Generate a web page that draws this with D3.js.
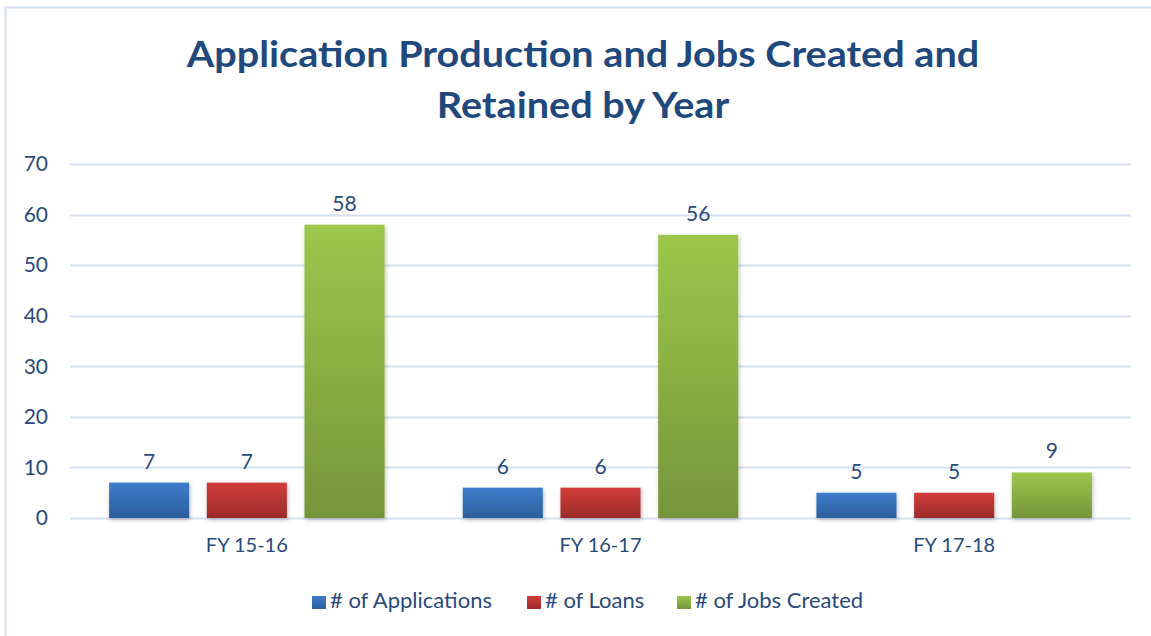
<!DOCTYPE html>
<meta charset="utf-8">
<style>
body { margin: 0; background: #fff; }
svg { display: block; }
.axis text { font: 20px Lato, sans-serif; fill: #2a4a7b; }
.y.axis text { font-size: 21px; }
.grid line { stroke: #d6e0f0; stroke-width: 2px; }
</style>
<body></body>
<script src="https://cdnjs.cloudflare.com/ajax/libs/d3/7.8.5/d3.min.js"></script>
<script>
// data
var categories = ["FY 15-16", "FY 16-17", "FY 17-18"];
var seriesNames = ["# of Applications", "# of Loans", "# of Jobs Created"];
var applications = [7, 6, 5];
var loans = [7, 6, 5];
var jobsCreated = [58, 56, 9];
var yTicks = [0, 10, 20, 30, 40, 50, 60, 70];
var titleLines = ["Application Production and Jobs Created and", "Retained by Year"];

var seriesValues = [applications, loans, jobsCreated];
var colors = [
  { top: "#3e7dcc", bottom: "#2d5e9c" },
  { top: "#d03e3b", bottom: "#9c2a29" },
  { top: "#9dc64b", bottom: "#76953a" }
];

var W = 1151, H = 636;
var plotLeft = 70, plotRight = 1131, plotTop = 164, plotBottom = 518;

var svg = d3.select("body").append("svg")
    .attr("width", W)
    .attr("height", H);

var defs = svg.append("defs");
colors.forEach(function(c, i) {
  var g = defs.append("linearGradient")
      .attr("id", "grad" + i)
      .attr("x1", 0).attr("y1", 0).attr("x2", 0).attr("y2", 1);
  g.append("stop").attr("offset", "0%").attr("stop-color", c.top);
  g.append("stop").attr("offset", "100%").attr("stop-color", c.bottom);
});
var f = defs.append("filter").attr("id", "shadow")
    .attr("x", "-20%").attr("y", "-20%").attr("width", "140%").attr("height", "140%");
f.append("feDropShadow").attr("dx", 1).attr("dy", 2).attr("stdDeviation", 2)
    .attr("flood-color", "#000").attr("flood-opacity", 0.25);

// chart border
svg.append("rect")
    .attr("x", 5.5).attr("y", 7.5)
    .attr("width", W + 10).attr("height", H + 10)
    .attr("fill", "#fff")
    .attr("stroke", "#d3deee")
    .attr("stroke-width", 2);

// title (stretched a little to match the wider original face)
svg.append("g").selectAll("text")
    .data(titleLines)
    .enter().append("text")
    .attr("transform", function(d, i) { return "translate(583," + (67 + i * 51) + ") scale(1.1,1)"; })
    .attr("text-anchor", "middle")
    .style("font", "bold 36px Lato, sans-serif")
    .style("fill", "#1f497d")
    .text(function(d) { return d; });

var x0 = d3.scaleBand().domain(categories).range([plotLeft, plotRight]);
var x1 = d3.scaleBand().domain(seriesNames).range([0, x0.bandwidth()])
    .paddingInner(0.18).paddingOuter(0.4);
var y = d3.scaleLinear().domain([0, 70]).range([plotBottom, plotTop]);

// gridlines
svg.append("g").attr("class", "grid")
    .selectAll("line")
    .data(yTicks)
    .enter().append("line")
    .attr("x1", plotLeft).attr("x2", plotRight)
    .attr("y1", function(d) { return Math.round(y(d)) + 0.5; })
    .attr("y2", function(d) { return Math.round(y(d)) + 0.5; });

// y axis labels
var yAxis = d3.axisLeft(y).tickValues(yTicks).tickSize(0).tickPadding(0);
svg.append("g").attr("class", "y axis")
    .attr("transform", "translate(48,0)")
    .call(yAxis)
    .call(function(g) { g.select(".domain").remove(); });

// x axis labels
var xAxis = d3.axisBottom(x0).tickSize(0).tickPadding(20);
svg.append("g").attr("class", "x axis")
    .attr("transform", "translate(0," + plotBottom + ")")
    .call(xAxis)
    .call(function(g) { g.select(".domain").remove(); });

// bars
var rows = [];
categories.forEach(function(c, ci) {
  seriesNames.forEach(function(s, si) {
    rows.push({ cat: c, series: s, si: si, value: seriesValues[si][ci] });
  });
});

svg.append("g").selectAll("rect")
    .data(rows)
    .enter().append("rect")
    .attr("x", function(d) { return x0(d.cat) + x1(d.series); })
    .attr("y", function(d) { return y(d.value); })
    .attr("width", x1.bandwidth())
    .attr("height", function(d) { return y(0) - y(d.value); })
    .attr("fill", function(d) { return "url(#grad" + d.si + ")"; })
    .attr("filter", "url(#shadow)");

// value labels
svg.append("g").selectAll("text")
    .data(rows)
    .enter().append("text")
    .attr("x", function(d) { return x0(d.cat) + x1(d.series) + x1.bandwidth() / 2; })
    .attr("y", function(d) { return y(d.value) - 14; })
    .attr("text-anchor", "middle")
    .style("font", "21px Lato, sans-serif")
    .style("fill", "#2a4a7b")
    .text(function(d) { return d.value; });

// legend
var legendX = [312, 527, 677];
var legend = svg.append("g").selectAll("g")
    .data(seriesNames)
    .enter().append("g")
    .attr("transform", function(d, i) { return "translate(" + legendX[i] + ",596)"; });
legend.append("rect")
    .attr("width", 14).attr("height", 13)
    .attr("fill", function(d, i) { return "url(#grad" + i + ")"; });
legend.append("text")
    .attr("x", 18).attr("y", 12)
    .style("font", "22px Lato, sans-serif")
    .style("fill", "#2a4a7b")
    .text(function(d) { return d; });
</script>
